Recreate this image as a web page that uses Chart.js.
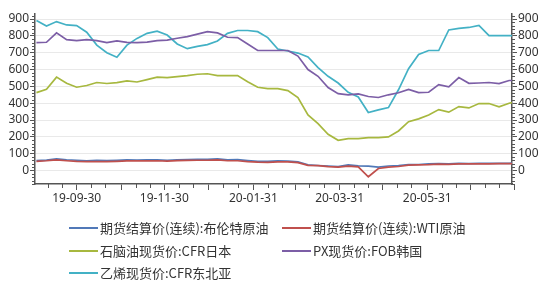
<!DOCTYPE html>
<html>
<head>
<meta charset="utf-8">
<script src="https://cdn.jsdelivr.net/npm/chart.js@4"></script>
<style>
  body { margin: 0; background: #fff; }
  canvas { display: block; }
</style>
</head>
<body>
<canvas id="chart" width="550" height="284"></canvas>
<script>
// weekly samples
const dates = [
  "2019-09-02", "2019-09-09", "2019-09-16", "2019-09-23", "2019-09-30", "2019-10-07", "2019-10-14",
  "2019-10-21", "2019-10-28", "2019-11-04", "2019-11-11", "2019-11-18", "2019-11-25", "2019-12-02",
  "2019-12-09", "2019-12-16", "2019-12-23", "2019-12-30", "2020-01-06", "2020-01-13", "2020-01-20",
  "2020-01-27", "2020-02-03", "2020-02-10", "2020-02-17", "2020-02-24", "2020-03-02", "2020-03-09",
  "2020-03-16", "2020-03-23", "2020-03-30", "2020-04-06", "2020-04-13", "2020-04-20", "2020-04-27",
  "2020-05-04", "2020-05-11", "2020-05-18", "2020-05-25", "2020-06-01", "2020-06-08", "2020-06-15",
  "2020-06-22", "2020-06-29", "2020-07-06", "2020-07-13", "2020-07-20", "2020-07-27", "2020-07-29"
];
const brent = [59, 62, 69, 64, 61, 58, 60, 59, 61, 63, 62, 63, 63, 61, 64, 65, 66, 66, 69, 64, 65, 59, 54, 54, 57,
  56, 52, 34, 30, 27, 23, 33, 28, 26, 20, 27, 30, 35, 36, 39, 41, 39, 43, 41, 43, 43, 43, 43, 44];
const wti = [55, 58, 63, 58, 54, 53, 53, 53, 55, 57, 57, 57, 58, 56, 59, 60, 61, 61, 63, 58, 58, 53, 50, 49, 52,
  51, 47, 31, 29, 23, 20, 26, 22, -37, 12, 20, 24, 32, 34, 35, 38, 37, 40, 39, 40, 40, 41, 41, 41];
const naphtha = [463, 483, 555, 518, 495, 505, 523, 517, 522, 533, 526, 540, 555, 552, 558, 564, 572, 575, 564,
  564, 564, 528, 495, 487, 487, 475, 434, 330, 279, 215, 180, 190, 190, 196, 196, 200, 235, 290, 307, 330, 362,
  347, 380, 372, 398, 398, 378, 400, 404];
const px = [760, 762, 818, 778, 772, 778, 772, 760, 770, 762, 760, 763, 772, 775, 786, 796, 810, 825, 818, 792,
  790, 752, 713, 713, 713, 713, 680, 600, 560, 493, 457, 450, 455, 440, 434, 450, 462, 482, 463, 465, 510, 497,
  552, 518, 520, 523, 517, 535, 535];
const ethylene = [891, 858, 885, 865, 861, 822, 745, 700, 673, 745, 785, 815, 828, 805, 752, 724, 738, 748, 770,
  815, 832, 832, 825, 790, 722, 710, 698, 675, 612, 560, 520, 465, 437, 345, 360, 374, 480, 605, 690, 713, 713,
  835, 845, 850, 862, 802, 802, 802, 802];

const seriesNames = [
  "期货结算价(连续):布伦特原油",
  "期货结算价(连续):WTI原油",
  "石脑油现货价:CFR日本",
  "PX现货价:FOB韩国",
  "乙烯现货价:CFR东北亚"
];
const xLabels = ["19-09-30", "19-11-30", "20-01-31", "20-03-31", "20-05-31"];
const yTicks = [0, 100, 200, 300, 400, 500, 600, 700, 800, 900];

const START = Date.UTC(2019, 8, 1);
const DAY = 86400000;
const X_MAX = (Date.UTC(2020, 6, 29) - START) / DAY;

function dayOf(str) {
  return (Date.parse(str) - START) / DAY;
}

function dateStr(day) {
  return new Date(START + day * DAY).toISOString().slice(2, 10);
}

function points(values) {
  return values.map((v, i) => ({x: dayOf(dates[i]), y: v}));
}

// month ends (long ticks) and the 10th / 20th (short ticks)
const monthEnds = [];
const monthMinor = [];
for (let m = 8; m <= 18; m++) {
  const y = 2019 + Math.floor(m / 12);
  const mm = m % 12;
  monthMinor.push((Date.UTC(y, mm, 10) - START) / DAY);
  monthMinor.push((Date.UTC(y, mm, 20) - START) / DAY);
  monthEnds.push((Date.UTC(y, mm + 1, 0) - START) / DAY);
}

const AXIS = "#555";
const TEXT = "#333";

const minorTicks = {
  id: "minorTicks",
  afterDraw(chart) {
    const ctx = chart.ctx;
    const x = chart.scales.x;
    const yl = chart.scales.y;
    const yr = chart.scales.y2;
    const area = chart.chartArea;
    ctx.save();
    ctx.strokeStyle = AXIS;
    ctx.lineWidth = 1;
    ctx.beginPath();
    monthMinor.forEach((d) => {
      if (d <= x.min || d >= x.max) return;
      const px = Math.round(x.getPixelForValue(d)) + 0.5;
      ctx.moveTo(px, area.bottom);
      ctx.lineTo(px, area.bottom + 4);
    });
    for (let v = -80; v <= 920; v += 20) {
      if (v % 100 === 0) continue;
      const py = Math.round(yl.getPixelForValue(v)) + 0.5;
      ctx.moveTo(area.left - 3, py);
      ctx.lineTo(area.left, py);
      const pr = Math.round(yr.getPixelForValue(v)) + 0.5;
      ctx.moveTo(area.right, pr);
      ctx.lineTo(area.right + 3, pr);
    }
    ctx.stroke();
    ctx.restore();
  }
};

const legendBlock = {
  id: "legendBlock",
  afterDraw(chart) {
    const ctx = chart.ctx;
    const cols = [69, 282];
    const rows = [228, 251, 273];
    ctx.save();
    ctx.font = '13px "Noto Sans CJK SC"';
    ctx.textBaseline = "middle";
    chart.data.datasets.forEach((ds, i) => {
      const lx = cols[i % 2];
      const ly = rows[Math.floor(i / 2)];
      ctx.strokeStyle = ds.borderColor;
      ctx.lineWidth = 2;
      ctx.beginPath();
      ctx.moveTo(lx, ly);
      ctx.lineTo(lx + 29, ly);
      ctx.stroke();
      ctx.fillStyle = TEXT;
      ctx.fillText(ds.label, lx + 31, ly);
    });
    ctx.restore();
  }
};

function line(label, values, color, order) {
  return {
    label,
    data: points(values),
    borderColor: color,
    backgroundColor: color,
    borderWidth: 1.7,
    pointRadius: 0,
    tension: 0,
    order
  };
}

const tickFont = {family: "Noto Sans", size: 12};

new Chart(document.getElementById("chart"), {
  type: "line",
  data: {
    datasets: [
      line(seriesNames[0], brent, "#5179b8", 1),
      line(seriesNames[1], wti, "#c0504d", 0),
      line(seriesNames[2], naphtha, "#a7b83f", 2),
      line(seriesNames[3], px, "#7c5ea6", 2),
      line(seriesNames[4], ethylene, "#43b1c5", 2)
    ]
  },
  options: {
    responsive: false,
    animation: false,
    layout: {padding: {top: 14}},
    plugins: {legend: {display: false}, tooltip: {enabled: false}},
    scales: {
      x: {
        type: "linear",
        min: 0,
        max: X_MAX,
        afterBuildTicks: (axis) => { axis.ticks = monthEnds.map((v) => ({value: v})); },
        afterFit: (axis) => { axis.height = 100; },
        grid: {drawOnChartArea: false, drawTicks: true, tickLength: 6, tickColor: AXIS},
        border: {display: true, color: AXIS, width: 1.5},
        ticks: {
          autoSkip: false,
          maxRotation: 0,
          padding: 1,
          color: TEXT,
          font: tickFont,
          callback: (v) => (xLabels.includes(dateStr(v)) ? dateStr(v) : "")
        }
      },
      y: {
        position: "left",
        min: -80,
        max: 930,
        afterBuildTicks: (axis) => { axis.ticks = yTicks.map((v) => ({value: v})); },
        afterFit: (axis) => { axis.width = 35; },
        grid: {color: "#e9e9e9", lineWidth: 1, drawTicks: true, tickLength: 5, tickColor: AXIS},
        border: {display: true, color: AXIS, width: 1.5},
        ticks: {color: TEXT, font: tickFont, padding: 1}
      },
      y2: {
        position: "right",
        min: -80,
        max: 930,
        afterBuildTicks: (axis) => { axis.ticks = yTicks.map((v) => ({value: v})); },
        afterFit: (axis) => { axis.width = 38; },
        grid: {drawOnChartArea: false, drawTicks: true, tickLength: 5, tickColor: AXIS},
        border: {display: true, color: AXIS, width: 1.5},
        ticks: {color: TEXT, font: tickFont, padding: 1}
      }
    }
  },
  plugins: [minorTicks, legendBlock]
});
</script>
</body>
</html>
